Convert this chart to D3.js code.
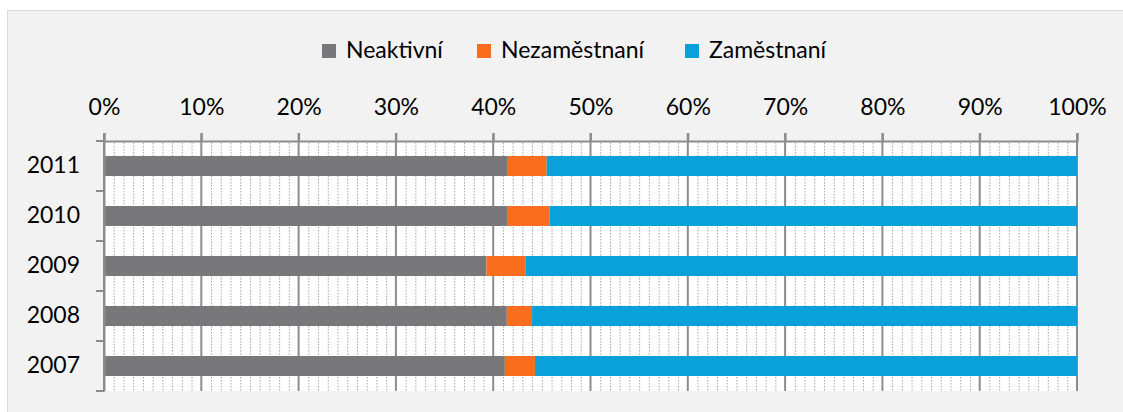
<!DOCTYPE html>
<html><head><meta charset="utf-8">
<script src="https://cdn.jsdelivr.net/npm/d3@7"></script>
<style>
html,body{margin:0;padding:0;background:#fff;}
svg{display:block;}
text{font-family:Lato,"Open Sans",sans-serif;fill:#000;}
</style></head><body>
<script>
const categories = ["2007","2008","2009","2010","2011"];
const seriesNames = ["Neaktivní","Nezaměstnaní","Zaměstnaní"];
const neaktivni = [41.2, 41.4, 39.3, 41.5, 41.5];
const nezamestnani = [3.1, 2.6, 4.0, 4.3, 4.0];
const zamestnani = [55.7, 56.0, 56.7, 54.2, 54.5];
const tickValues = [0,10,20,30,40,50,60,70,80,90,100];
const colors = ["#78787b","#f86e1d","#0aa0da"];

(function(){
const W = 1123, H = 412;
const svg = d3.select("body").append("svg").attr("width", W).attr("height", H);

svg.append("rect").attr("x",7.5).attr("y",10.5).attr("width",W).attr("height",H)
  .attr("fill","#f2f2f2").attr("stroke","#d9d9d9").attr("stroke-width",1);

const pL = 104, pR = 1077, pT = 141, pB = 391;
const x = d3.scaleLinear().domain([0,100]).range([pL,pR]);
const y = d3.scaleBand().domain(categories.slice().reverse()).range([pT,pB]).paddingInner(0.6).paddingOuter(0.3);

svg.append("rect").attr("x",pL).attr("y",pT).attr("width",pR-pL).attr("height",pB-pT).attr("fill","#fff");

const minor = d3.range(0,101,1).filter(v => v % 10 !== 0);
svg.append("g").selectAll("line").data(minor).join("line")
  .attr("x1", d=>x(d)+0.5).attr("x2", d=>x(d)+0.5).attr("y1", pT+2).attr("y2", pB)
  .attr("stroke","#a6a6a6").attr("stroke-width",1).attr("stroke-dasharray","1.5,1.5");

svg.append("g").selectAll("line").data(tickValues).join("line")
  .attr("x1", d=>x(d)).attr("x2", d=>x(d)).attr("y1", pT-8).attr("y2", pB)
  .attr("stroke","#8c8c8c").attr("stroke-width",2);

const rows = categories.map((c,i)=>({cat:c, "Neaktivní":neaktivni[i], "Nezaměstnaní":nezamestnani[i], "Zaměstnaní":zamestnani[i]}));
const stack = d3.stack().keys(seriesNames).offset(d3.stackOffsetExpand)(rows);
svg.append("g").selectAll("g").data(stack).join("g").attr("fill",(d,i)=>colors[i])
  .selectAll("rect").data(d=>d).join("rect")
  .attr("x", d=>x(d[0]*100)).attr("width", d=>x(d[1]*100)-x(d[0]*100))
  .attr("y", d=>y(d.data.cat)).attr("height", y.bandwidth());

const xAxis = d3.axisTop(x).tickValues(tickValues).tickFormat(d=>d+"%").tickSize(8).tickPadding(18);
const gx = svg.append("g").attr("transform",`translate(0,${pT})`).call(xAxis);
gx.select(".domain").attr("stroke","#8c8c8c").attr("stroke-width",2);
gx.selectAll(".tick line").attr("stroke","#8c8c8c").attr("stroke-width",2);
gx.selectAll("text").style("font-size","23px").style("font-family","Lato").attr("fill","#000");

const yAxis = d3.axisLeft(y).tickSize(0).tickPadding(24);
const gy = svg.append("g").attr("transform",`translate(${pL},0)`).call(yAxis);
gy.select(".domain").attr("stroke","#8c8c8c").attr("stroke-width",2);
gy.selectAll("text").style("font-size","23px").style("font-family","Lato").attr("fill","#000");
const bounds = d3.range(categories.length+1).map(i=>pT + i*(pB-pT)/categories.length);
gy.selectAll(".bt").data(bounds).join("line").attr("class","bt")
  .attr("x1",-8).attr("x2",0).attr("y1",d=>d).attr("y2",d=>d)
  .attr("stroke","#8c8c8c").attr("stroke-width",2);

const legX = [322, 477, 685];
const leg = svg.append("g");
seriesNames.forEach((n,i)=>{
  leg.append("rect").attr("x",legX[i]).attr("y",44).attr("width",14).attr("height",14).attr("fill",colors[i]);
  leg.append("text").attr("x",legX[i]+24).attr("y",58).style("font-size","23px").text(n);
});
})();
</script>
</body></html>
